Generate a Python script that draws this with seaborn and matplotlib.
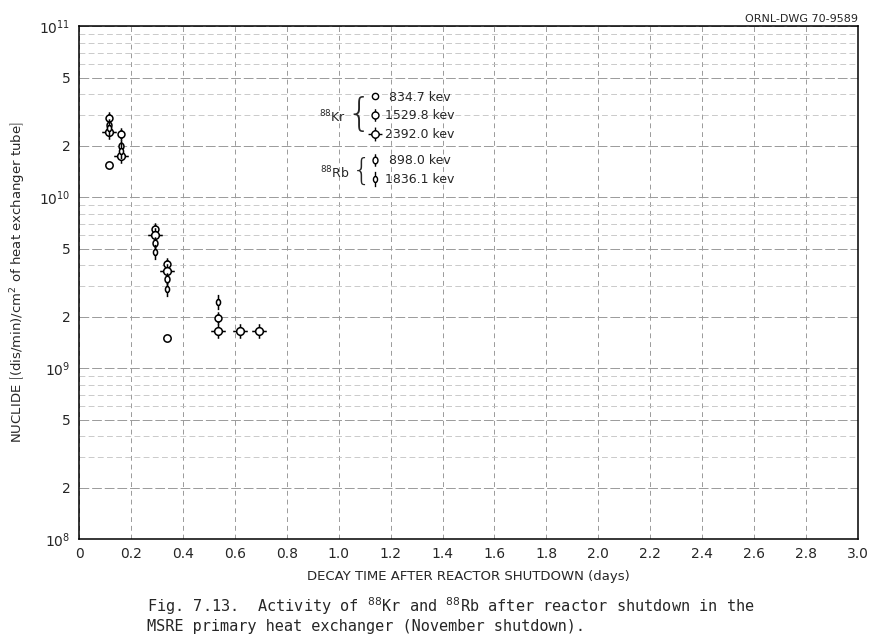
import numpy as np
import pandas as pd
import matplotlib
matplotlib.use("Agg")
import matplotlib.pyplot as plt
from matplotlib.path import Path
from matplotlib.lines import Line2D
from matplotlib.ticker import FixedLocator, NullFormatter
import seaborn as sns

# decay time (days) and activity
kr834_t = [0.117, 0.337]
kr834_a = [1.55e10, 1.5e9]

kr1529_t = [0.117, 0.160, 0.292, 0.337, 0.537]
kr1529_a = [2.9e10, 2.35e10, 6.5e9, 4.05e9, 1.96e9]

kr2392_t = [0.117, 0.160, 0.292, 0.337, 0.537, 0.619, 0.693]
kr2392_a = [2.4e10, 1.74e10, 6.0e9, 3.7e9, 1.65e9, 1.65e9, 1.65e9]

rb898_t = [0.117, 0.160, 0.292, 0.337]
rb898_a = [2.65e10, 1.99e10, 5.4e9, 3.3e9]

rb1836_t = [0.117, 0.160, 0.292, 0.337, 0.537]
rb1836_a = [2.55e10, 1.85e10, 4.75e9, 2.9e9, 2.42e9]

kr_labels = [" 834.7 kev", "1529.8 kev", "2392.0 kev"]
rb_labels = [" 898.0 kev", "1836.1 kev"]

x_ticks = [0, 0.2, 0.4, 0.6, 0.8, 1.0, 1.2, 1.4, 1.6, 1.8, 2.0, 2.2, 2.4, 2.6, 2.8, 3.0]
x_ticklabels = ["0", "0.2", "0.4", "0.6", "0.8", "1.0", "1.2", "1.4", "1.6", "1.8",
                "2.0", "2.2", "2.4", "2.6", "2.8", "3.0"]
y_ticks = [1e8, 2e8, 5e8, 1e9, 2e9, 5e9, 1e10, 2e10, 5e10, 1e11]
y_ticklabels = ["$10^8$", "2", "5", "$10^9$", "2", "5", "$10^{10}$", "2", "5", "$10^{11}$"]


def glyph(xs=1.0, tick=0.0, side=False):
    # open circle (or ellipse) with little strokes, like the hand-drawn symbols
    circ = Path.unit_circle()
    verts = circ.vertices * np.array([xs, 1.0])
    parts = [Path(verts, circ.codes)]
    if tick:
        parts.append(Path([[0, 1], [0, 1 + tick]], [Path.MOVETO, Path.LINETO]))
        parts.append(Path([[0, -1], [0, -1 - tick]], [Path.MOVETO, Path.LINETO]))
    if side:
        parts.append(Path([[xs, 0], [xs + 0.9, 0]], [Path.MOVETO, Path.LINETO]))
        parts.append(Path([[-xs, 0], [-xs - 0.9, 0]], [Path.MOVETO, Path.LINETO]))
    return Path.make_compound_path(*parts)


m_circle = "o"
m_kr1529 = glyph(1.0, 0.8)
m_kr2392 = glyph(1.0, 0.9, side=True)
m_rb898 = glyph(0.75, 0.9)
m_rb1836 = glyph(0.7, 1.6)

series = [
    (kr834_t, kr834_a, m_circle, 28),
    (kr1529_t, kr1529_a, m_kr1529, 80),
    (kr2392_t, kr2392_a, m_kr2392, 110),
    (rb898_t, rb898_a, m_rb898, 80),
    (rb1836_t, rb1836_a, m_rb1836, 120),
]

sns.set_style("white")
plt.rcParams["font.family"] = ["DejaVu Sans"]

fig = plt.figure(figsize=(8.75, 6.36), dpi=100)
ax = fig.add_axes([0.0903, 0.1525, 0.8903, 0.8065])

for t, a, mk, sz in series:
    df = pd.DataFrame({"t": t, "a": a})
    sns.scatterplot(data=df, x="t", y="a", marker=mk, s=sz, facecolor="white",
                    edgecolor="black", linewidth=1.1, ax=ax, zorder=5)

ax.set_yscale("log")
ax.set_xlim(0, 3.0)
ax.set_ylim(1e8, 1e11)

# graph paper grid
ax.yaxis.set_minor_locator(FixedLocator([m * 10 ** e for e in (8, 9, 10) for m in range(2, 10)]))
ax.yaxis.set_minor_formatter(NullFormatter())
ax.set_yticks(y_ticks)
ax.set_yticklabels(y_ticklabels, fontsize=10)
ax.set_xticks(x_ticks)
ax.set_xticklabels(x_ticklabels, fontsize=10)
ax.tick_params(axis="both", which="both", length=0, pad=6)
ax.grid(True, which="major", axis="x", color="#9a9a9a", linestyle=(0, (5, 4)), linewidth=0.7)
ax.grid(True, which="major", axis="y", color="#9a9a9a", linestyle=(0, (10, 3)), linewidth=0.7)
ax.grid(True, which="minor", axis="y", color="#c2c2c2", linestyle=(0, (7, 4)), linewidth=0.6)
for s in ax.spines.values():
    s.set_color("black")
    s.set_linewidth(1.1)

ax.set_xlabel("DECAY TIME AFTER REACTOR SHUTDOWN (days)", fontsize=9.5, labelpad=6)
ax.set_ylabel(r"NUCLIDE $\left[(\mathrm{dis/min})/\mathrm{cm}^2\ \mathrm{of\ heat\ exchanger\ tube}\right]$",
              fontsize=9.5, labelpad=8)

fig.text(0.981, 0.963, "ORNL-DWG 70-9589", ha="right", va="bottom", fontsize=8)

# legend blocks with braces
kr_handles = [Line2D([], [], linestyle="none", marker=mk, markersize=ms, markerfacecolor="white",
                     markeredgecolor="black", markeredgewidth=1.0)
              for mk, ms in ((m_circle, 4.5), (m_kr1529, 9), (m_kr2392, 10))]
rb_handles = [Line2D([], [], linestyle="none", marker=mk, markersize=ms, markerfacecolor="white",
                     markeredgecolor="black", markeredgewidth=1.0)
              for mk, ms in ((m_rb898, 9), (m_rb1836, 11))]

legend_kw = dict(loc="upper left", frameon=False, fontsize=9, handlelength=0.8,
                 handletextpad=0.4, labelspacing=0.45, borderpad=0, borderaxespad=0)
leg_kr = ax.legend(kr_handles, kr_labels, bbox_to_anchor=(0.373, 0.874), **legend_kw)
ax.add_artist(leg_kr)
ax.legend(rb_handles, rb_labels, bbox_to_anchor=(0.373, 0.750), **legend_kw)

ax.text(0.343, 0.823, r"$^{88}$Kr", transform=ax.transAxes, ha="right", va="center", fontsize=9)
ax.text(0.375, 0.826, "{", transform=ax.transAxes, ha="right", va="center", fontsize=28,
        fontweight="light")
ax.text(0.347, 0.713, r"$^{88}$Rb", transform=ax.transAxes, ha="right", va="center", fontsize=9)
ax.text(0.375, 0.716, "{", transform=ax.transAxes, ha="right", va="center", fontsize=22,
        fontweight="light")

caption = ("Fig. 7.13.  Activity of $^{88}$Kr and $^{88}$Rb after reactor shutdown in the\n"
           "MSRE primary heat exchanger (November shutdown).")
fig.text(0.168, 0.034, caption, ha="left", va="center", fontsize=11,
         family="DejaVu Sans Mono", linespacing=1.2)

fig.savefig("out.png", dpi=100)
